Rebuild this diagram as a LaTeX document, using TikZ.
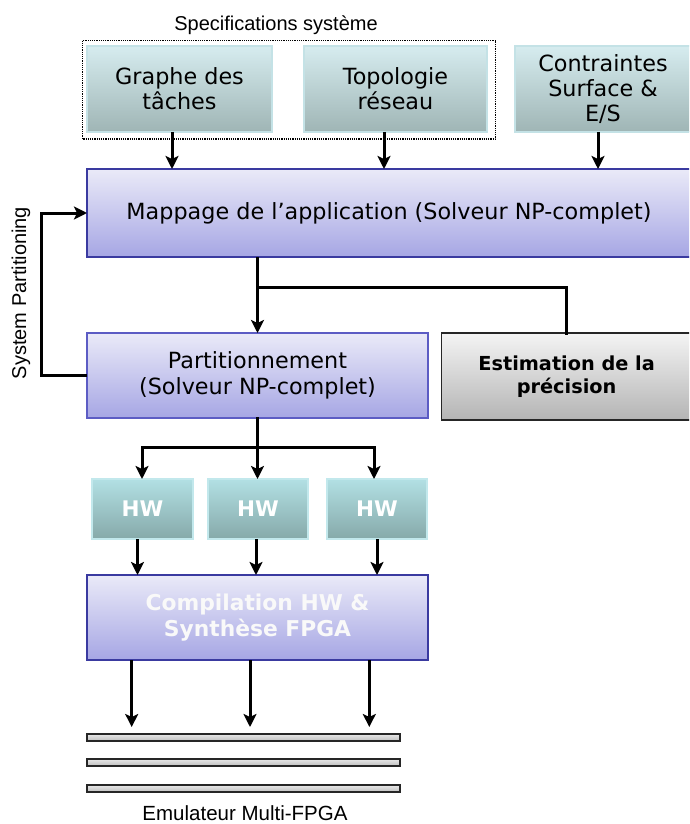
\documentclass[tikz,border=0pt]{standalone}
\usepackage{fontspec}
\setmainfont{DejaVu Sans}
\newfontfamily\arialf{Liberation Sans}
\usetikzlibrary{arrows.meta,calc}
\definecolor{cyantop}{HTML}{D6ECEF}
\definecolor{cyanbot}{HTML}{9FB5B5}
\definecolor{cyanedge}{HTML}{C4E2E6}
\definecolor{hwtop}{HTML}{B2E0E4}
\definecolor{hwbot}{HTML}{86A9A9}
\definecolor{hwedge}{HTML}{C2E8EC}
\definecolor{purtop}{HTML}{EAEAF8}
\definecolor{purbot}{HTML}{A6A6E4}
\definecolor{puredge}{HTML}{3A3AA0}
\definecolor{puredgeb}{HTML}{5C5CC4}
\definecolor{graytop}{HTML}{F4F4F4}
\definecolor{graybot}{HTML}{B4B4B4}
\definecolor{bartop}{HTML}{E8E8E8}
\definecolor{barbot}{HTML}{BEBEBE}
\begin{document}
\begin{tikzpicture}[x=1pt,y=-1pt,
  every node/.style={inner sep=0pt,outer sep=0pt},
  cyanbox/.style={rectangle,draw=cyanedge,line width=1.2pt,top color=cyantop,bottom color=cyanbot,
    anchor=north west,align=center,font=\fontsize{22.3}{25}\selectfont},
  hwbox/.style={rectangle,draw=hwedge,line width=1.2pt,top color=hwtop,bottom color=hwbot,
    anchor=north west,align=center,text=white,minimum width=100pt,minimum height=60pt,
    font=\fontsize{21.5}{25}\selectfont\bfseries},
  purbox/.style={rectangle,draw=puredge,line width=1.5pt,top color=purtop,bottom color=purbot,
    anchor=north west,align=center,font=\fontsize{22.3}{26.5}\selectfont},
  graybox/.style={rectangle,draw=black!85,line width=1.5pt,top color=graytop,bottom color=graybot,
    anchor=north west,align=center,font=\fontsize{19.3}{23}\selectfont\bfseries},
  barbox/.style={rectangle,draw=black!85,line width=1.8pt,top color=bartop,bottom color=barbot,
    anchor=north west,minimum width=313pt,minimum height=7pt},
  lbl/.style={font=\arialf\fontsize{20}{22}\selectfont},
  conn/.style={line width=3pt,line cap=rect},
  arr/.style={line width=3pt,-{Stealth[length=13pt,width=13pt,inset=3pt]}}
]
\clip (0,0) rectangle (689,824);
\fill[white] (0,0) rectangle (689,824);

% top row
\node[lbl] (spec) at (276,25) {Specifications système};
\node[cyanbox,minimum width=185pt,minimum height=86pt] (graphe) at (87,46) {Graphe des\\tâches};
\node[cyanbox,minimum width=183pt,minimum height=86pt] (topo) at (304,46) {Topologie\\réseau};
\node[cyanbox,minimum width=176pt,minimum height=86pt] (contr) at (515,46) {Contraintes\\Surface \&\\E/S};
\draw[densely dotted,line width=1.2pt] (82.6,40.7) rectangle (495.6,139);

% mapping
\node[purbox,minimum width=604pt,minimum height=88pt] (map) at (87,169) {Mappage de l’application (Solveur NP-complet)};

\draw[arr] (graphe.south -| 172,0) -- (map.north -| 172,0);
\draw[arr] (topo.south -| 384,0) -- (map.north -| 384,0);
\draw[arr] (contr.south -| 598,0) -- (map.north -| 598,0);

% partition and estimation
\node[purbox,draw=puredgeb,minimum width=341pt,minimum height=85pt] (part) at (87,333) {Partitionnement\\(Solveur NP-complet)};
\node[graybox,minimum width=250pt,minimum height=87pt] (est) at (441.6,333) {Estimation de la\\précision};

\draw[arr] (map.south -| part.north) -- (part.north);
\coordinate (br) at ($(map.south -| part.north)+(0,30)$);
\draw[conn] (br) -| (est.north);

% feedback
\draw[arr] (part.west) -- ++(-46,0) |- (map.west);
\node[lbl,rotate=90] (sysp) at (21,293) {System Partitioning};

% HW boxes
\node[hwbox,minimum width=101pt] (hw1) at (92,479) {HW};
\node[hwbox] (hw2) at (208,479) {HW};
\node[hwbox] (hw3) at (327,479) {HW};

\coordinate (hb) at ($(part.south)+(0,29)$);
\draw[conn] (part.south) -- (hb);
\draw[arr] (hb) -| ([xshift=-0.5pt]hw1.north);
\draw[arr] (hb) -- (hb |- hw2.north);
\draw[arr] (hb) -| ([xshift=-3pt]hw3.north);

% compilation
\node[purbox,minimum width=341pt,minimum height=85pt,text=white!95!gray,
  font=\fontsize{21.8}{25.5}\selectfont\bfseries] (comp) at (87,575) {Compilation HW \&\\Synthèse FPGA};

\draw[arr] ([xshift=-5pt]hw1.south) -- ([xshift=-5pt]hw1.south |- comp.north);
\draw[arr] ([xshift=-2pt]hw2.south) -- ([xshift=-2pt]hw2.south |- comp.north);
\draw[arr] (hw3.south) -- (hw3.south |- comp.north);

% emulator bars
\node[barbox] (bar1) at (87,734) {};
\node[barbox] (bar2) at (87,759) {};
\node[barbox] (bar3) at (87,785) {};
\coordinate (e1) at (131.7,727);
\coordinate (e2) at (250,727);
\coordinate (e3) at (369.3,727);
\draw[arr] (comp.south -| e1) -- (e1);
\draw[arr] (comp.south -| e2) -- (e2);
\draw[arr] (comp.south -| e3) -- (e3);
\node[lbl,font=\arialf\fontsize{20.5}{22}\selectfont] (emu) at (245,813) {Emulateur Multi-FPGA};
\end{tikzpicture}
\end{document}
